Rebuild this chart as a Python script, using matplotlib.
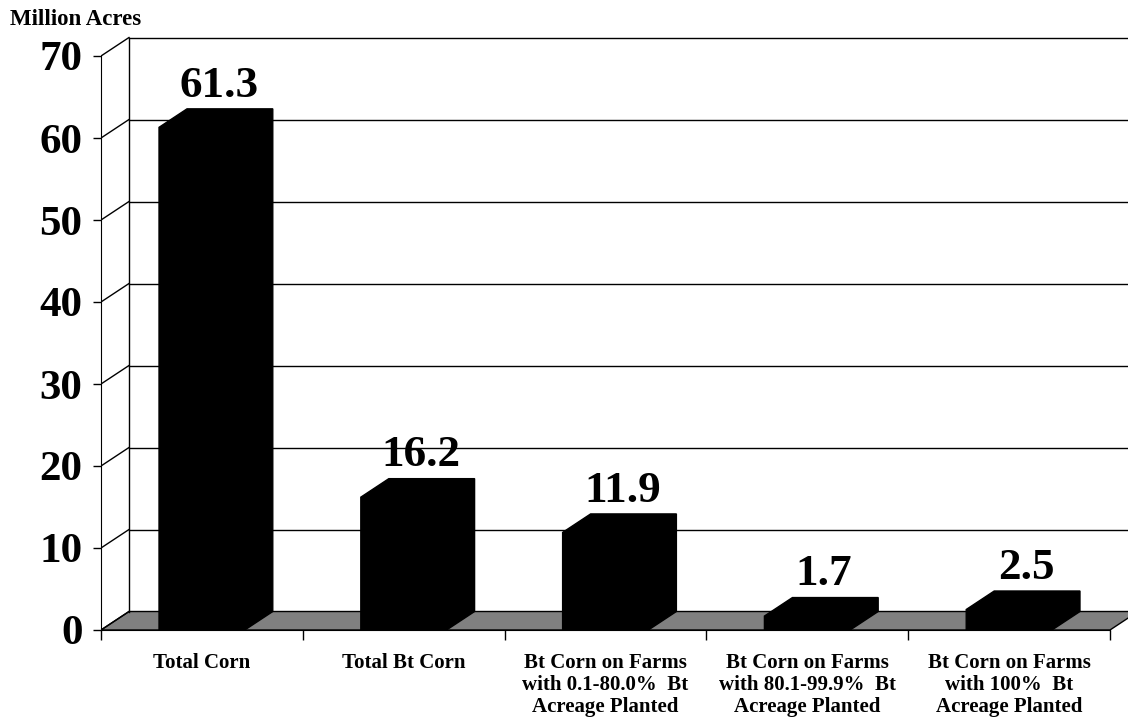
import matplotlib.pyplot as plt
from matplotlib.patches import Polygon

# data
categories = ["Total Corn",
              "Total Bt Corn",
              "Bt Corn on Farms\nwith 0.1-80.0%  Bt\nAcreage Planted",
              "Bt Corn on Farms\nwith 80.1-99.9%  Bt\nAcreage Planted",
              "Bt Corn on Farms\nwith 100%  Bt\nAcreage Planted"]
values = [61.3, 16.2, 11.9, 1.7, 2.5]
yticks = [0, 10, 20, 30, 40, 50, 60, 70]

plt.rcParams['font.family'] = ['Liberation Serif', 'DejaVu Serif']
plt.rcParams['font.weight'] = 'bold'

fig = plt.figure(figsize=(11.28, 7.23), dpi=100)
ax = fig.add_axes([101 / 1128, 93 / 723, 1027 / 1128, 594.5 / 723])
xmax = -0.5 + 1027 / 201.8
ax.set_xlim(-0.5, xmax)
ax.set_ylim(0, 72.5)

# fake 3d depth (in data units)
dx = 28 / 201.8
dy = 18.5 / 8.2
w = 0.425

# floor
floor = Polygon([(-0.5, 0), (4.5, 0), (4.5 + dx, dy), (-0.5 + dx, dy)],
                closed=True, facecolor='#808080', edgecolor='black', lw=1, zorder=1)
ax.add_patch(floor)

# back wall + side lines
ax.plot([-0.5 + dx, -0.5 + dx], [dy, 70 + dy], color='black', lw=1, zorder=1)
for t in yticks:
    ax.plot([-0.5, -0.5 + dx], [t, t + dy], color='black', lw=1, zorder=1)
    if t > 0:
        ax.plot([-0.5 + dx, xmax], [t + dy, t + dy], color='black', lw=1, zorder=1)

# bars
for i, v in enumerate(values):
    xl = i - w / 2
    xr = i + w / 2
    pts = [(xl, 0), (xl, v), (xl + dx, v + dy), (xr + dx, v + dy), (xr + dx, dy), (xr, 0)]
    ax.add_patch(Polygon(pts, closed=True, facecolor='black', edgecolor='black', lw=1, zorder=2))
    ax.text(i + dx * 0.6, v + dy + 1.5, f"{v}", ha='center', va='baseline',
            fontsize=32.5, fontweight='bold', zorder=3)

# axes
ax.spines['top'].set_visible(False)
ax.spines['right'].set_visible(False)
ax.spines['left'].set_bounds(0, 70)
ax.spines['bottom'].set_bounds(-0.5, 4.5)
ax.spines['left'].set_zorder(4)
ax.spines['bottom'].set_zorder(4)
ax.set_yticks(yticks)
ax.set_yticklabels([str(t) for t in yticks], fontsize=31, fontweight='bold')
ax.tick_params(axis='y', length=5.8, width=1, pad=7.5)
ax.set_xticks(range(len(categories)))
ax.set_xticklabels(categories, fontsize=15, fontweight='bold', linespacing=1.15)
ax.set_xticks([-0.5, 0.5, 1.5, 2.5, 3.5, 4.5], minor=True)
ax.tick_params(axis='x', which='major', length=0, pad=16.5)
ax.tick_params(axis='x', which='minor', length=7.2, width=1)

fig.text(10 / 1128, 1 - 9 / 723, "Million Acres", ha='left', va='top',
         fontsize=16.5, fontweight='bold')

plt.savefig("out.png", dpi=100)
